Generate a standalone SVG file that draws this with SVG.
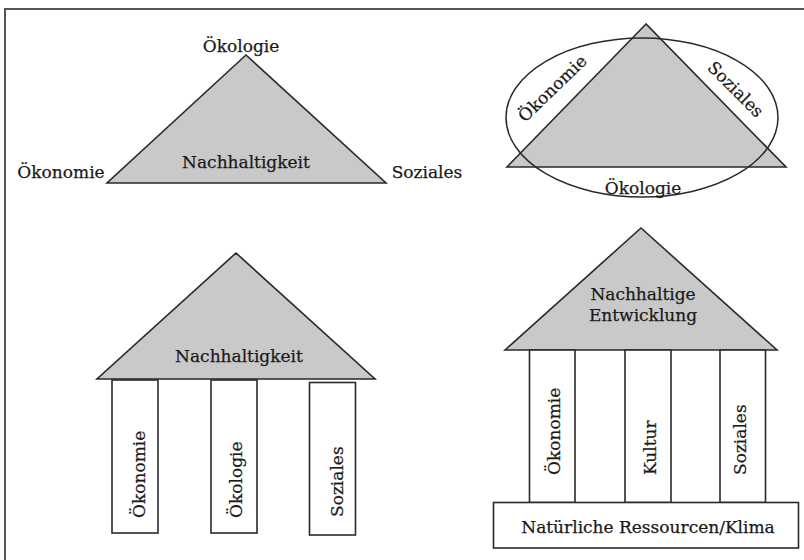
<svg xmlns="http://www.w3.org/2000/svg" width="804" height="560" viewBox="0 0 804 560">
<style>
.roof{fill:#c9c9c9;stroke:#2a2a2a;stroke-width:1.6;stroke-linejoin:miter}
.box{fill:#ffffff;stroke:#2a2a2a;stroke-width:1.6}
.ell{fill:none;stroke:#2a2a2a;stroke-width:1.5}
.t{font-family:"DejaVu Serif","Liberation Serif",serif;font-size:17px;fill:#1a1a1a;stroke:#1a1a1a;stroke-width:0.25}
.m{text-anchor:middle}
.s{text-anchor:start}
</style>
<rect width="804" height="560" fill="#ffffff"/>
<path d="M5,560 V9 H804" fill="none" stroke="#555" stroke-width="2"/>

<g id="triangle-model">
  <polygon class="roof" points="246,55 107,183 386,183"/>
  <text class="t m" x="241" y="52">Ökologie</text>
  <text class="t m" x="246" y="168">Nachhaltigkeit</text>
  <text class="t m" x="61" y="178">Ökonomie</text>
  <text class="t m" x="427" y="178">Soziales</text>
</g>

<g id="ellipse-model">
  <polygon class="roof" points="646,24 507,167 786,167"/>
  <ellipse class="ell" cx="642" cy="117.5" rx="136" ry="79.5"/>
  <text class="t m" transform="translate(556.5,92.6) rotate(-44)">Ökonomie</text>
  <text class="t m" transform="translate(731.5,93.5) rotate(45)">Soziales</text>
  <text class="t m" x="643" y="194">Ökologie</text>
</g>

<g id="temple-three">
  <polygon class="roof" points="236,253 97,379 375,379"/>
  <text class="t m" x="239" y="362">Nachhaltigkeit</text>
  <g id="pillar-oekonomie-1">
    <rect class="box" x="112" y="380" width="46" height="153"/>
    <text class="t s" transform="translate(145,518) rotate(-90)">Ökonomie</text>
  </g>
  <g id="pillar-oekologie-1">
    <rect class="box" x="211" y="380" width="46" height="153"/>
    <text class="t s" transform="translate(242,518) rotate(-90)">Ökologie</text>
  </g>
  <g id="pillar-soziales-1">
    <rect class="box" x="309.5" y="382.5" width="46" height="152.5"/>
    <text class="t s" transform="translate(343,517) rotate(-90)">Soziales</text>
  </g>
</g>

<g id="temple-four">
  <polygon class="roof" points="641,228 505,350 777,350"/>
  <text class="t m" x="643" y="300">Nachhaltige</text>
  <text class="t m" x="643" y="321">Entwicklung</text>
  <g id="pillar-oekonomie-2">
    <rect class="box" x="529.5" y="350" width="45.5" height="152.5"/>
    <text class="t s" transform="translate(560,475) rotate(-90)">Ökonomie</text>
  </g>
  <g id="pillar-kultur">
    <rect class="box" x="625" y="350" width="46" height="152.5"/>
    <text class="t s" transform="translate(656,475) rotate(-90)">Kultur</text>
  </g>
  <g id="pillar-soziales-2">
    <rect class="box" x="720" y="350" width="45.5" height="152.5"/>
    <text class="t s" transform="translate(746,475) rotate(-90)">Soziales</text>
  </g>
  <g id="base">
    <rect class="box" x="493.5" y="502.5" width="305" height="45.5"/>
    <text class="t m" x="648" y="533">Natürliche Ressourcen/Klima</text>
  </g>
</g>
</svg>
